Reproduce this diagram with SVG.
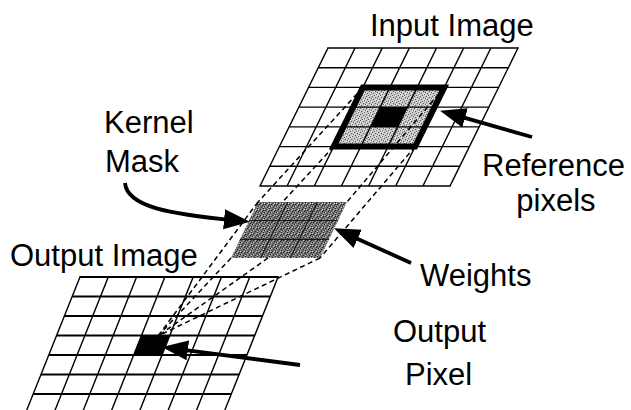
<svg xmlns="http://www.w3.org/2000/svg" width="631" height="410" viewBox="0 0 631 410">
  <defs>
    <style>
      .label { font-family: "Liberation Sans", Arial, sans-serif; font-size: 31px; fill: #000; }
      .grid { stroke: #000; stroke-width: 1.4; fill: none; stroke-linecap: square; }
      .grid-h { stroke: #000; stroke-width: 2; fill: none; }
      .dash { stroke: #000; stroke-width: 1.5; stroke-dasharray: 5 3.5; fill: none; }
      .arrow { stroke: #000; stroke-width: 3.8; fill: none; marker-end: url(#head); }
    </style>
    <!-- fine stipple textures for the shaded cells -->
    <pattern id="stippleLight" width="6" height="6" patternUnits="userSpaceOnUse">
      <rect width="6" height="6" fill="#c4c4c4"/>
      <path d="M0 0h1v1h-1z M3 1h1v1h-1z M5 2h1v1h-1z M1 3h1v1h-1z M4 4h1v1h-1z M2 5h1v1h-1z" fill="#5e5e5e"/>
      <path d="M2 0h1v1h-1z M0 2h1v1h-1z M4 3h1v1h-1z M5 5h1v1h-1z M3 4h1v1h-1z" fill="#f2f2f2"/>
    </pattern>
    <pattern id="stippleDark" width="6" height="6" patternUnits="userSpaceOnUse">
      <rect width="6" height="6" fill="#747474"/>
      <path d="M1 0h1v1h-1z M4 1h1v1h-1z M0 2h1v1h-1z M3 3h1v1h-1z M5 4h1v1h-1z M2 5h1v1h-1z M5 0h1v1h-1z" fill="#262626"/>
      <path d="M3 0h1v1h-1z M1 2h1v1h-1z M5 3h1v1h-1z M0 5h1v1h-1z M4 5h1v1h-1z" fill="#c2c2c2"/>
    </pattern>
    <marker id="head" markerUnits="userSpaceOnUse" markerWidth="26" markerHeight="22" viewBox="0 0 26 22" refX="12" refY="11" orient="auto">
      <path d="M0,1 L26,11 L0,21 z" fill="#000"/>
    </marker>
  </defs>

  <rect width="631" height="410" fill="#fff"/>

  <!-- input image: 7x7 sheared grid -->
  <g id="input-image">
    <g id="reference-pixels">
      <polygon points="362.9,87.4 444.3,87.4 415.1,146.6 333.7,146.6" fill="url(#stippleLight)"/>
      <polygon points="380.3,107.1 407.4,107.1 397.7,126.9 370.6,126.9" fill="#000"/>
    </g>
    <path class="grid" d="
      M328,48H518 M318.3,67.7H508.3 M308.6,87.4H498.6 M298.9,107.1H488.9
      M289.1,126.9H479.1 M279.4,146.6H469.4 M269.7,166.3H459.7 M260,186H450
      M328,48L260,186 M355.1,48L287.1,186 M382.3,48L314.3,186 M409.4,48L341.4,186
      M436.6,48L368.6,186 M463.7,48L395.7,186 M490.9,48L422.9,186 M518,48L450,186"/>
    <polygon points="362.9,87.4 444.3,87.4 415.1,146.6 333.7,146.6" fill="none" stroke="#000" stroke-width="6" stroke-linejoin="miter"/>
    <text class="label" x="370" y="36">Input Image</text>
    <text class="label" x="482" y="176">Reference</text>
    <text class="label" x="556" y="211" text-anchor="middle">pixels</text>
  </g>

  <!-- output image: grid running off the bottom edge -->
  <g id="output-image">
    <g id="output-pixel">
      <polygon points="141.5,335.5 169.8,335.5 162,355 133.7,355" fill="#000"/>
    </g>
    <path class="grid-h" d="
      M80,277H278.1 M72.2,296.5H270.3 M64.4,316H262.5 M56.6,335.5H254.7
      M48.8,355H246.9 M41,374.5H239.1 M33.2,394H231.3"/>
    <path class="grid" d="
      M80,277L25.4,413.5 M108.3,277L53.7,413.5 M136.6,277L82,413.5 M164.9,277L110.3,413.5
      M193.2,277L138.6,413.5 M221.5,277L166.9,413.5 M249.8,277L195.2,413.5 M278.1,277L223.5,413.5"/>
    <text class="label" x="10" y="266">Output Image</text>
    <text class="label" x="393" y="342">Output</text>
    <text class="label" x="405" y="385">Pixel</text>
  </g>

  <!-- kernel mask: 3x3 shaded weights -->
  <g id="kernel-mask">
    <polygon points="258,202 347,202 320,258 231,258" fill="url(#stippleDark)"/>
    <path d="M249,220.7H338 M240,239.3H329 M287.7,202L260.7,258 M317.3,202L290.3,258" stroke="#1a1a1a" stroke-width="1.2" fill="none"/>
    <text class="label" x="104" y="133">Kernel</text>
    <text class="label" x="105" y="172">Mask</text>
  </g>

  <g id="weights">
    <text class="label" x="420" y="286">Weights</text>
  </g>

  <g id="connectors">
    <!-- projection from reference pixels onto the kernel -->
    <line class="dash" x1="362.9" y1="87.4" x2="258" y2="202"/>
    <line class="dash" x1="444.3" y1="87.4" x2="347" y2="202"/>
    <line class="dash" x1="333.7" y1="146.6" x2="282.6" y2="202"/>
    <line class="dash" x1="415.1" y1="146.6" x2="320" y2="258"/>
    <!-- projection from the kernel onto the output pixel -->
    <line class="dash" x1="258" y1="202" x2="158" y2="336"/>
    <line class="dash" x1="268" y1="258" x2="158" y2="336"/>
    <line class="dash" x1="231" y1="258" x2="158" y2="336"/>
    <line class="dash" x1="320" y1="258" x2="158" y2="336"/>
    <!-- callout arrows -->
    <line class="arrow" x1="532" y1="137" x2="453.5" y2="114.7"/>
    <path class="arrow" d="M125,183 C127,207 170,214 236,220.5"/>
    <line class="arrow" x1="411" y1="263" x2="346.7" y2="233.9"/>
    <line class="arrow" x1="300" y1="365" x2="175.9" y2="348.8" stroke-width="4.4"/>
  </g>
</svg>
